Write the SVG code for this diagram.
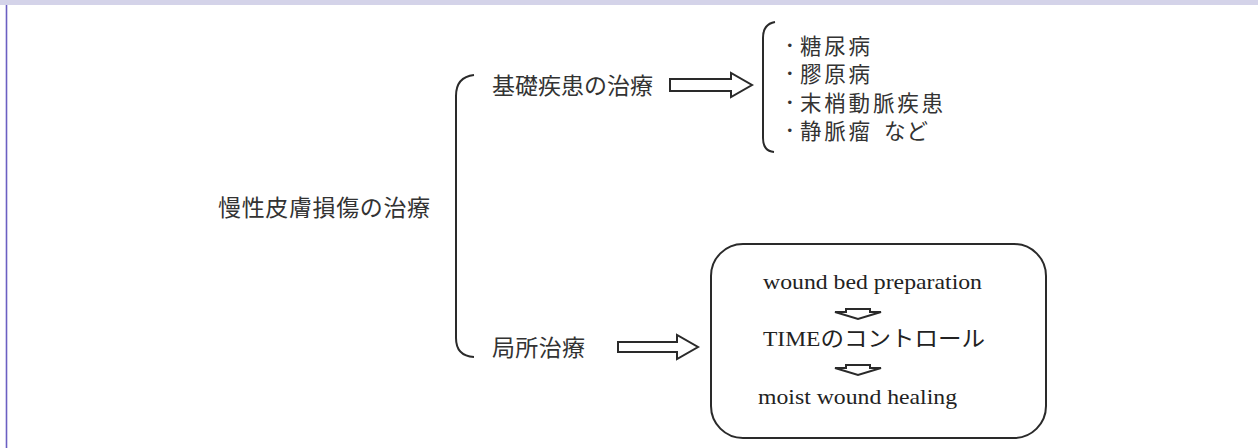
<svg xmlns="http://www.w3.org/2000/svg" width="1258" height="448" viewBox="0 0 1258 448">
<style>
.jp{font-family:"Liberation Sans","Noto Sans CJK JP",sans-serif;font-size:23px;fill:#333}
.li{font-size:21.5px}
.bu{font-family:"Liberation Sans",sans-serif;font-size:13px;fill:#333}
.en{font-family:"Liberation Serif","Noto Sans CJK JP",serif;font-size:22px;fill:#222}
.ln{fill:none;stroke:#2a2a2a;stroke-width:2}
.ar{fill:#fff;stroke:#2a2a2a;stroke-width:2;stroke-linejoin:miter}
</style>
<rect x="0" y="0" width="1258" height="448" fill="#fff"/>
<rect x="0" y="0" width="1258" height="5" fill="#d4d3e9"/>
<line x1="6.5" y1="5" x2="6.5" y2="448" stroke="#6b5fc2" stroke-width="1.6"/>

<g id="root">
<text class="jp" x="218" y="215.5" textLength="212" lengthAdjust="spacing">慢性皮膚損傷の治療</text>
</g>

<g id="connectors">
<path class="ln" d="M474 75 Q456 77 456 96 L456 338 Q456 356 474 357"/>
<path class="ln" d="M775 22 Q763 24 763 38 L763 138 Q763 151 774 152"/>
<polygon class="ar" points="670,79 731,79 731,73 752,85 731,97 731,91 670,91"/>
<polygon class="ar" points="618,342 677,342 677,335 698,347 677,359 677,352 618,352"/>
</g>

<g id="kiso">
<text class="jp" x="492" y="94" textLength="161" lengthAdjust="spacing">基礎疾患の治療</text>
</g>

<g id="list">
<text class="bu" x="787.5" y="50">•</text>
<text class="jp li" x="800" y="54" textLength="70" lengthAdjust="spacing">糖尿病</text>
<text class="bu" x="787.5" y="78">•</text>
<text class="jp li" x="800" y="82" textLength="70" lengthAdjust="spacing">膠原病</text>
<text class="bu" x="787.5" y="107">•</text>
<text class="jp li" x="800" y="111" textLength="143" lengthAdjust="spacing">末梢動脈疾患</text>
<text class="bu" x="787.5" y="135">•</text>
<text class="jp li" x="800" y="139" textLength="70" lengthAdjust="spacing">静脈瘤</text>
<text class="jp li" x="884" y="139" textLength="44" lengthAdjust="spacing">など</text>
</g>

<g id="kyokusho">
<text class="jp" x="492" y="355.5" textLength="93" lengthAdjust="spacing">局所治療</text>
</g>

<g id="box">
<rect x="711" y="244" width="335" height="194" rx="32" ry="32" class="ln"/>
<text class="en" x="763" y="289" textLength="219" lengthAdjust="spacingAndGlyphs">wound bed preparation</text>
<polygon class="ar" points="846,309 870,309 870,312 881,312 858,319 835,312 846,312" stroke-width="1.5"/>
<text class="en" x="763" y="346" textLength="222" lengthAdjust="spacingAndGlyphs">TIMEのコントロール</text>
<polygon class="ar" points="846,365 870,365 870,368 881,368 858,375 835,368 846,368" stroke-width="1.5"/>
<text class="en" x="758" y="404" textLength="199" lengthAdjust="spacingAndGlyphs">moist wound healing</text>
</g>
</svg>
